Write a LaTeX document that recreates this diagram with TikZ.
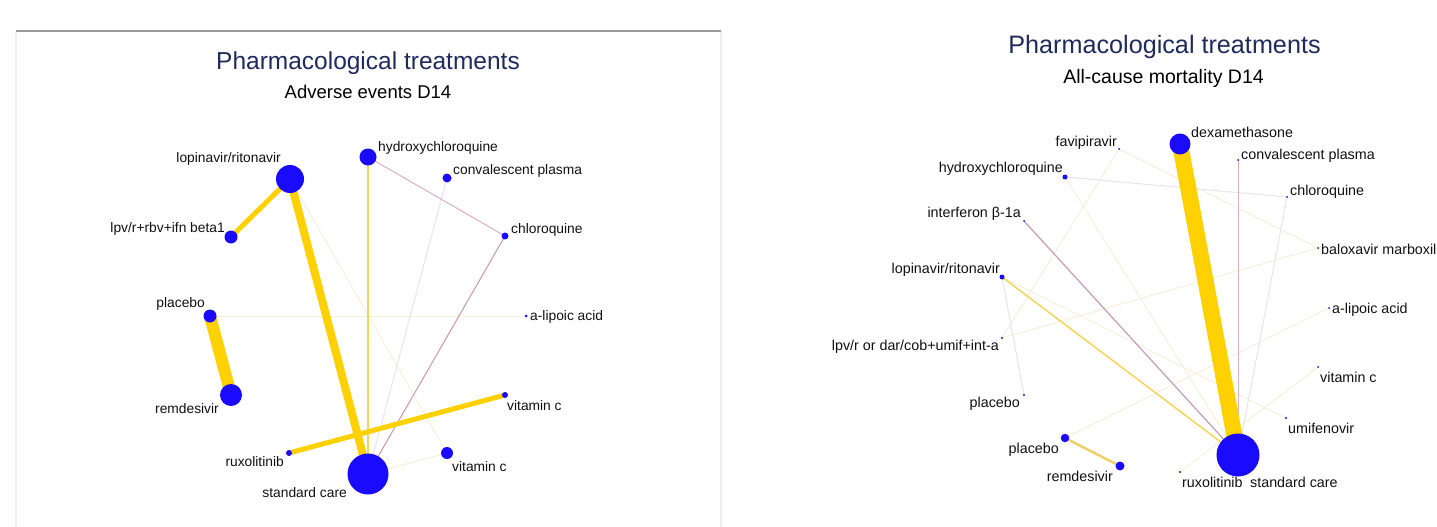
\documentclass[tikz,border=0pt]{standalone}
\usepackage{fontspec}
\setmainfont{Liberation Sans}
\usetikzlibrary{backgrounds}
\definecolor{nodeblue}{HTML}{1A0AFF}
\definecolor{gold}{HTML}{FFD100}
\definecolor{goldlight}{HTML}{F5D45A}
\definecolor{goldtan}{HTML}{EDD06A}
\definecolor{pinkline}{HTML}{CC8E9F}
\definecolor{pinklight}{HTML}{DBB0BE}
\definecolor{mauve}{HTML}{C49CB8}
\definecolor{faintyellow}{HTML}{F5F1DC}
\definecolor{faintlav}{HTML}{ECE2EC}
\definecolor{titlenavy}{HTML}{1F2B5E}
\definecolor{labeltext}{HTML}{111111}
\definecolor{framegray}{HTML}{9A9A9A}
\definecolor{framelight}{HTML}{F0F0F0}
\tikzset{
  bdot/.style={circle,fill=nodeblue,draw=none,inner sep=0pt,minimum size=#1},
  lblL/.style={inner sep=0pt,text=labeltext,font=\fontsize{13.8}{15}\selectfont},
  lblR/.style={inner sep=0pt,text=labeltext,font=\fontsize{14.3}{16}\selectfont},
  ttl/.style={inner sep=0pt,anchor=base,text=titlenavy},
  subttl/.style={inner sep=0pt,anchor=base,text=black},
  edge/.style={line width=#1},
}
\begin{document}
\begin{tikzpicture}[x=1pt,y=-1pt]
\useasboundingbox (0,0) rectangle (1437,527);

% ---------------- LEFT PANEL ----------------
\node[ttl,font=\fontsize{24.5}{28}\selectfont] (tL) at (368,70) {Pharmacological treatments};
\node[subttl,font=\fontsize{18.5}{22}\selectfont] (sL) at (368,99) {Adverse events D14};

\node[bdot=28] (Llop) at (290,179) {};
\node[bdot=17] (Lhcq) at (368,157) {};
\node[bdot=9] (Lcp) at (447,178) {};
\node[bdot=7] (Lchq) at (505,236) {};
\node[bdot=13] (Llpv) at (231,237) {};
\node[bdot=13] (Lplac) at (210,316) {};
\node[bdot=3] (Lalip) at (526,316) {};
\node[bdot=22] (Lremd) at (231,395) {};
\node[bdot=6] (Lvitc) at (505,395) {};
\node[bdot=6] (Lrux) at (289,453) {};
\node[bdot=12] (Lvitcb) at (447,453) {};
\node[bdot=41] (Lsc) at (368,474) {};

\node[lblL,anchor=base east] (lLlop) at (281,162) {lopinavir/ritonavir};
\node[lblL,anchor=base west] (lLhcq) at (378,151) {hydroxychloroquine};
\node[lblL,anchor=base west] (lLcp) at (453,174) {convalescent plasma};
\node[lblL,anchor=base west] (lLchq) at (511,233) {chloroquine};
\node[lblL,anchor=base east] (lLlpv) at (225,232) {lpv/r+rbv+ifn beta1};
\node[lblL,anchor=base east] (lLplac) at (205,307) {placebo};
\node[lblL,anchor=base west] (lLalip) at (530,320) {a-lipoic acid};
\node[lblL,anchor=base east] (lLremd) at (219,413) {remdesivir};
\node[lblL,anchor=base west] (lLvitc) at (507,410) {vitamin c};
\node[lblL,anchor=base east] (lLrux) at (284,466) {ruxolitinib};
\node[lblL,anchor=base west] (lLvitcb) at (452,471) {vitamin c};
\node[lblL,anchor=base east] (lLsc) at (347,497) {standard care};

% ---------------- RIGHT PANEL ----------------
\node[ttl,font=\fontsize{25.2}{29}\selectfont] (tR) at (1164.5,53) {Pharmacological treatments};
\node[subttl,font=\fontsize{19.5}{23}\selectfont] (sR) at (1163.5,83) {All-cause mortality D14};

\node[bdot=21] (Rdex) at (1180,144) {};
\node[bdot=2] (Rfav) at (1119,149) {};
\node[bdot=5] (Rhcq) at (1065,177) {};
\node[bdot=2] (Rcp) at (1238,160) {};
\node[bdot=2] (Rchq) at (1287,197) {};
\node[bdot=2] (Rifn) at (1024,221) {};
\node[bdot=2] (Rbal) at (1318,248) {};
\node[bdot=5] (Rlop) at (1002,277) {};
\node[bdot=2] (Ralip) at (1329,308) {};
\node[bdot=2.4] (Rlpvor) at (1002,338) {};
\node[bdot=2] (Rvitc) at (1318,367) {};
\node[bdot=2.4] (Rplaca) at (1024,395) {};
\node[bdot=2.4] (Rumif) at (1286,418) {};
\node[bdot=8.5] (Rplac) at (1065,438) {};
\node[bdot=9] (Rremd) at (1120,466) {};
\node[bdot=2.4] (Rrux) at (1180,472) {};
\node[bdot=43] (Rsc) at (1238,455) {};

\node[lblR,anchor=base west] (lRdex) at (1191,137) {dexamethasone};
\node[lblR,anchor=base east] (lRfav) at (1117,146) {favipiravir};
\node[lblR,anchor=base west] (lRcp) at (1241,159) {convalescent plasma};
\node[lblR,anchor=base east] (lRhcq) at (1063,172) {hydroxychloroquine};
\node[lblR,anchor=base west] (lRchq) at (1290,195) {chloroquine};
\node[lblR,anchor=base east] (lRifn) at (1021,217) {interferon β-1a};
\node[lblR,anchor=base west] (lRbal) at (1321,254) {baloxavir marboxil};
\node[lblR,anchor=base east] (lRlop) at (1000,273) {lopinavir/ritonavir};
\node[lblR,anchor=base west] (lRalip) at (1332,313) {a-lipoic acid};
\node[lblR,anchor=base east] (lRlpvor) at (999,350) {lpv/r or dar/cob+umif+int-a};
\node[lblR,anchor=base west] (lRvitc) at (1320,382) {vitamin c};
\node[lblR,anchor=base east] (lRplaca) at (1020,407) {placebo};
\node[lblR,anchor=base west] (lRumif) at (1288,433) {umifenovir};
\node[lblR,anchor=base east] (lRplac) at (1059,453) {placebo};
\node[lblR,anchor=base east] (lRremd) at (1113,481) {remdesivir};
\node[lblR,anchor=base west] (lRrux) at (1182,487) {ruxolitinib};
\node[lblR,anchor=base west] (lRsc) at (1250,487) {standard care};

\begin{pgfonlayer}{background}
  \fill[white] (0,0) rectangle (1437,527);
  % frame of left panel
  \coordinate (fTL) at (16,31);
  \coordinate (fTR) at (721,31);
  \coordinate (fBL) at (16,527);
  \coordinate (fBR) at (721,527);
  \draw[framelight,line width=1.2] (fTL) -- (fBL);
  \draw[framelight,line width=1.2] (fTR) -- (fBR);
  \draw[framegray,line width=1.3] (fTL) -- (fTR);

  % left edges (faint first)
  \draw[faintyellow,edge=1] (Llop.center) -- (Lvitcb.center);
  \draw[faintyellow,edge=1] (Lplac.center) -- (Lalip.center);
  \draw[faintyellow,edge=1] (Lsc.center) -- (Lvitcb.center);
  \draw[faintlav,edge=1] (Lcp.center) -- (Lsc.center);
  \draw[pinklight,edge=1] (Lhcq.center) -- (Lchq.center);
  \draw[pinkline,edge=0.9] (Lchq.center) -- (Lsc.center);
  \draw[goldlight,edge=1.8] (Lhcq.center) -- (Lsc.center);
  \draw[gold,edge=5] (Llop.center) -- (Llpv.center);
  \draw[gold,edge=8] (Llop.center) -- (Lsc.center);
  \draw[gold,edge=12] (Lplac.center) -- (Lremd.center);
  \draw[gold,edge=5] (Lrux.center) -- (Lvitc.center);

  % right edges (faint first)
  \draw[faintyellow,edge=1] (Rhcq.center) -- (Rsc.center);
  \draw[faintyellow,edge=1] (Rfav.center) -- (Rbal.center);
  \draw[faintyellow,edge=1] (Rfav.center) -- (Rlpvor.center);
  \draw[faintyellow,edge=1] (Rlpvor.center) -- (Rbal.center);
  \draw[faintyellow,edge=1] (Rplac.center) -- (Ralip.center);
  \draw[faintyellow,edge=1] (Rlop.center) -- (Rumif.center);
  \draw[faintyellow,edge=1] (Rrux.center) -- (Rvitc.center);
  \draw[faintlav,edge=1] (Rlop.center) -- (Rplaca.center);
  \draw[faintlav,edge=1] (Rhcq.center) -- (Rchq.center);
  \draw[faintlav,edge=1] (Rchq.center) -- (Rsc.center);
  \draw[pinklight,edge=1] (Rcp.center) -- (Rsc.center);
  \draw[mauve,edge=1.2] (Rifn.center) -- (Rsc.center);
  \draw[goldlight,edge=1.5] (Rlop.center) -- (Rsc.center);
  \draw[goldtan,edge=2.5] (Rplac.center) -- (Rremd.center);
  \draw[gold,edge=16] (Rdex.center) -- (Rsc.center);
\end{pgfonlayer}
\end{tikzpicture}
\end{document}
